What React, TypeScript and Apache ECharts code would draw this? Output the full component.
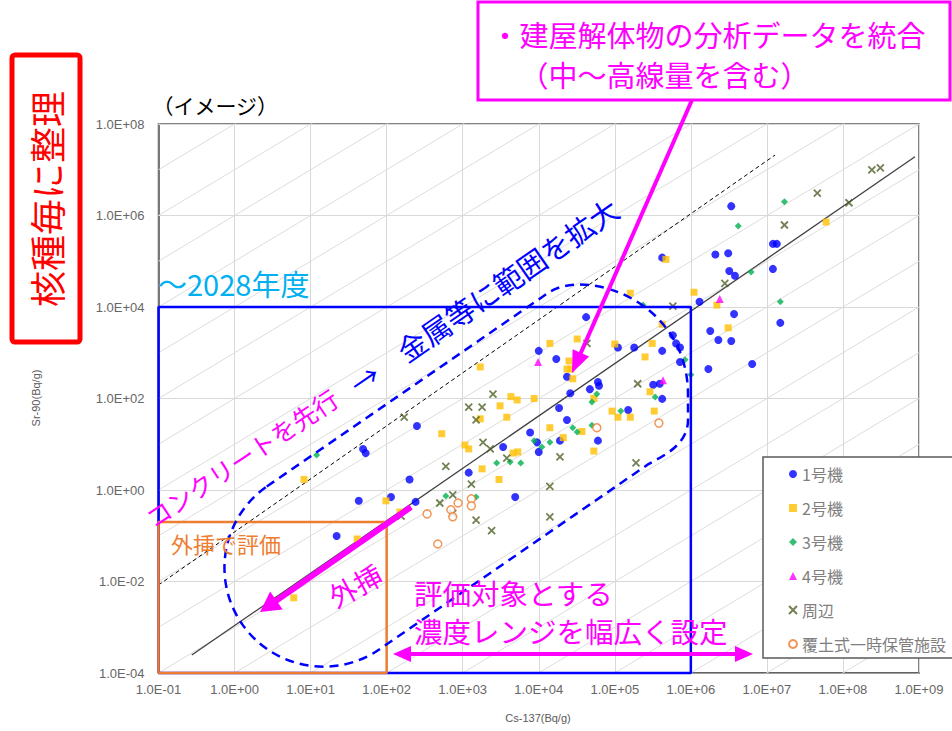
import React, { useEffect, useRef } from 'react';
import * as echarts from 'echarts';

// ---- data (Cs-137, Sr-90) in Bq/g ----
const unit1: number[][] = [
  [22, 0.099], [43, 0.58], [49, 7.9], [53, 6.4], [114, 0.7], [200, 1.7], [240, 0.55], [250, 25],
  [1200, 2.4], [3400, 8.7], [4900, 0.7], [7700, 18], [9500, 11], [1.0e4, 6.8], [1.9e4, 12],
  [2.35e4, 34], [6.0e4, 12], [1.0e4, 1100], [1.7e4, 730], [4.2e4, 6000], [1.1e5, 1300],
  [1.8e5, 1300], [4.2e5, 1100], [5.8e5, 2400], [6.4e5, 1600], [7.2e5, 1300], [7.2e5, 630],
  [2.35e4, 300], [6.0e4, 230], [6.2e4, 190], [4.7e4, 160], [2.6e4, 130], [3.2e5, 200],
  [3.9e5, 210], [4.2e5, 98], [1.85e4, 62], [1.5e5, 56], [4.2e5, 1.2e5], [1.3e6, 1.3e4],
  [1.7e6, 440], [1.8e6, 3000], [2.3e6, 1900], [3.4e6, 1800], [3.7e6, 7000], [2.1e6, 1.4e5],
  [3.1e6, 1.5e5], [3.2e6, 6.1e4], [3.8e6, 4.8e4], [3.4e6, 1.6e6], [1.2e7, 2.4e5],
  [1.35e7, 2.4e5], [1.2e7, 6.8e4], [1.5e7, 4500], [6.4e6, 570]
];
const unit2: number[][] = [
  [6.0, 0.0044], [8.2, 1.7], [41, 0.085], [98, 0.58], [150, 0.33], [530, 17], [1070, 9.6],
  [1200, 7.9], [1700, 490], [1700, 36], [1800, 2.9], [3000, 1.7], [3100, 69], [3800, 39],
  [4300, 110], [5200, 93], [8700, 100], [4600, 6.4], [5300, 6.8], [1.4e4, 23], [2.1e4, 14],
  [3.7e4, 19], [5.3e4, 7.1], [1.4e4, 1600], [3.2e4, 2000], [1.0e5, 1550], [2.5e5, 810],
  [3.1e5, 1600], [4.2e5, 4200], [2.5e4, 660], [2.35e4, 440], [2.65e4, 440], [2.8e4, 270],
  [5.3e4, 100], [2.9e5, 140], [9.2e4, 53], [1.1e5, 39], [1.6e5, 39], [3.3e5, 53],
  [1.6e5, 2.0e4], [1.1e6, 2.1e4], [2.2e6, 1.1e4], [3.1e6, 3500], [4.7e5, 1.1e5], [6.0e7, 7.2e5]
];
const unit3: number[][] = [
  [12, 5.8], [600, 0.74], [1500, 0.7], [2800, 3.9], [4200, 4.1], [5800, 3.9], [8700, 12],
  [1.1e4, 8.7], [1.4e4, 11], [2.8e4, 23], [3.2e4, 18.5], [5.0e4, 26], [5.8e4, 125], [5.0e4, 84],
  [3.4e5, 108], [1.2e5, 53], [8.4e5, 700], [1.0e6, 330], [2.35e5, 1.1e4], [1.7e7, 2.0e6],
  [4.2e6, 5.9e5], [6.2e6, 5.8e4], [1.5e7, 1.3e4]
];
const unit4: number[][] = [[9800, 630], [4.3e5, 250], [2.4e6, 1.5e4]];
const surroundings: number[][] = [
  [170, 39], [1200, 65], [1800, 65], [1500, 34], [2500, 125], [600, 3.3], [1850, 11], [2300, 7.9],
  [3800, 5.0], [1300, 1.35], [500, 0.52], [740, 0.78], [740, 0.31], [1500, 0.22], [2400, 0.13],
  [1.4e4, 1.2], [1.4e4, 0.26], [1.9e4, 5.3], [1.9e5, 3.9], [4.3e4, 1600], [2.0e5, 210],
  [5.8e5, 1.05e4], [2.8e6, 3.3e4], [1.7e7, 6.2e5], [4.6e7, 3.1e6], [1.2e8, 1.9e6],
  [2.4e8, 9.9e6], [3.1e8, 1.1e7], [155, 0.27]
];
const soilCovered: number[][] = [
  [340, 0.3], [470, 0.066], [700, 0.37], [740, 0.26], [870, 0.52], [1300, 0.64], [1300, 0.45],
  [5.8e4, 23], [3.8e5, 29]
];
const fitLine: number[][] = [[0.274, 2.47e-4], [8.85e8, 1.93e7]];
const upperLine: number[][] = [[0.1, 8.4e-3], [1.28e7, 2.1e7]];
const targetBox: number[][] = [[0.1, 1e-4], [0.1, 1e4], [1e6, 1e4], [1e6, 1e-4], [0.1, 1e-4]];
const extrapBox: number[][] = [[0.1, 1e-4], [0.1, 0.2], [100, 0.2], [100, 1e-4], [0.1, 1e-4]];
const ratioExponents = [-13, -12, -11, -10, -9, -8, -7, -6, -5, -4, -3, -2, -1, 0, 1, 2, 3, 4, 5, 6, 7, 8, 9];
const yTickValues = [1e-4, 1e-2, 1, 1e2, 1e4, 1e6, 1e8];
const X_MIN = 0.1, X_MAX = 1e9, Y_MIN = 1e-4, Y_MAX = 1e8;
const legendNames = ['1号機', '2号機', '3号機', '4号機', '周辺', '覆土式一時保管施設'];

const CAPSULE_D =
  'M 266.8 486.5 L 548 293 C 585 267 688 300 688 395 L 688 420 C 688 445 663 456 648 464.4 L 379.2 649.5 A 99 99 0 0 1 266.8 486.5 Z';
echarts.graphic.registerShape('capsule', echarts.graphic.extendPath(CAPSULE_D, {}));

const JP = '"Noto Sans CJK JP", "Noto Sans", sans-serif';

const expLabel = (v: number) => {
  const e = Math.round(Math.log10(v));
  return '1.0E' + (e < 0 ? '-' : '+') + String(Math.abs(e)).padStart(2, '0');
};

function head(tip: number[], from: number[], len: number, half: number) {
  const dx = tip[0] - from[0], dy = tip[1] - from[1];
  const l = Math.hypot(dx, dy);
  const ux = dx / l, uy = dy / l;
  const bx = tip[0] - ux * len, by = tip[1] - uy * len;
  return [[tip[0], tip[1]], [bx - uy * half, by + ux * half], [bx + uy * half, by - ux * half]];
}
function base(tip: number[], from: number[], len: number) {
  const dx = tip[0] - from[0], dy = tip[1] - from[1];
  const l = Math.hypot(dx, dy);
  return [tip[0] - (dx / l) * len * 0.8, tip[1] - (dy / l) * len * 0.8];
}

function txt(text: string, x: number, y: number, size: number, fill: string, opts: any = {}) {
  return {
    type: 'text', x, y, z: 20, rotation: opts.rotation || 0, silent: true,
    style: {
      text, fill, font: `${opts.weight || 'normal'} ${size}px ${opts.family || JP}`,
      align: opts.align || 'left', verticalAlign: 'middle',
      textAlign: opts.align || 'left', textVerticalAlign: 'middle'
    }
  };
}

export default function App() {
  const ref = useRef<HTMLDivElement>(null);
  useEffect(() => {
    if (!ref.current) return;
    const chart = echarts.init(ref.current, null, { renderer: 'svg' });
    const MAG = '#FF00FF';

    const a1From = [692, 100], a1Tip = [572, 373];
    const a2From = [411, 507], a2Tip = [260, 612];
    const a3L = [393, 654], a3R = [753, 654];

    const graphic: any[] = [
      // left red box
      { type: 'rect', z: 20, silent: true, shape: { x: 12, y: 55, width: 68, height: 287, r: 3 },
        style: { fill: '#fff', stroke: '#FF0000', lineWidth: 5 } },
      txt('核種毎に整理', 45.5, 199, 36, '#FF0000', { align: 'center', rotation: Math.PI / 2 }),
      txt('（イメージ）', 152.5, 105, 21, '#000'),
      // top magenta box
      { type: 'rect', z: 20, silent: true, shape: { x: 478, y: 2, width: 472, height: 98 },
        style: { fill: '#fff', stroke: MAG, lineWidth: 3 } },
      txt('・建屋解体物の分析データを統合', 490.5, 33.5, 29, MAG),
      txt('（中～高線量を含む）', 519.5, 73.5, 29, MAG),
      { type: 'line', z: 20, silent: true, shape: { x1: a1From[0], y1: a1From[1], x2: base(a1Tip, a1From, 22)[0], y2: base(a1Tip, a1From, 22)[1] },
        style: { stroke: MAG, lineWidth: 4 } },
      { type: 'polygon', z: 20, silent: true, shape: { points: head(a1Tip, a1From, 22, 9) }, style: { fill: MAG } },
      txt('～2028年度', 158, 283, 29, '#00B0F0'),
      // dashed capsule
      { type: 'capsule', z: 19, silent: true, x: 0, y: 0,
        style: { fill: 'none', stroke: '#0000FF', lineWidth: 2.5, lineDash: [9, 6] } },
      txt('コンクリートを先行', 148, 520, 25, MAG, { rotation: 0.59 }),
      txt('→　金属等に範囲を拡大', 352, 386, 29, '#0000FF', { rotation: 0.605 }),
      txt('外挿で評価', 171, 543, 22, '#ED7D31'),
      { type: 'line', z: 20, silent: true, shape: { x1: a2From[0], y1: a2From[1], x2: base(a2Tip, a2From, 20)[0], y2: base(a2Tip, a2From, 20)[1] },
        style: { stroke: MAG, lineWidth: 6 } },
      { type: 'polygon', z: 20, silent: true, shape: { points: head(a2Tip, a2From, 20, 11) }, style: { fill: MAG } },
      txt('外挿', 355, 585, 28, MAG, { align: 'center', rotation: 0.49 }),
      txt('評価対象とする', 414, 592, 28.5, MAG),
      txt('濃度レンジを幅広く設定', 414, 630, 28.5, MAG),
      { type: 'line', z: 20, silent: true, shape: { x1: base(a3L, a3R, 18)[0], y1: 654, x2: base(a3R, a3L, 18)[0], y2: 654 },
        style: { stroke: MAG, lineWidth: 4 } },
      { type: 'polygon', z: 20, silent: true, shape: { points: head(a3L, a3R, 18, 8) }, style: { fill: MAG } },
      { type: 'polygon', z: 20, silent: true, shape: { points: head(a3R, a3L, 18, 8) }, style: { fill: MAG } },
      // axis names
      txt('Sr-90(Bq/g)', 36, 398, 11, '#595959', { align: 'center', rotation: Math.PI / 2, family: '"Liberation Sans", sans-serif' }),
      txt('Cs-137(Bq/g)', 538, 718, 11, '#595959', { align: 'center', family: '"Liberation Sans", sans-serif' }),
      // legend box
      { type: 'rect', z: 3, silent: true, shape: { x: 763, y: 457, width: 200, height: 201 },
        style: { fill: '#fff', stroke: '#595959', lineWidth: 1.5 } }
    ];

    const scatterDefs = [
      { name: legendNames[0], data: unit1, symbol: 'circle', symbolSize: 8, itemStyle: { color: '#0000FF' } },
      { name: legendNames[1], data: unit2, symbol: 'rect', symbolSize: 7, itemStyle: { color: '#FFC000' } },
      { name: legendNames[2], data: unit3, symbol: 'diamond', symbolSize: 7, itemStyle: { color: '#00B050' } },
      { name: legendNames[3], data: unit4, symbol: 'triangle', symbolSize: 8, itemStyle: { color: '#FF00FF' } },
      { name: legendNames[4], data: surroundings, symbol: 'path://M0,0L10,10M10,0L0,10', symbolSize: 7,
        itemStyle: { color: '#4F6228', borderColor: '#4F6228', borderWidth: 1.8 } },
      { name: legendNames[5], data: soilCovered, symbol: 'circle', symbolSize: 8,
        itemStyle: { color: '#FFFFFF', borderColor: '#ED7D31', borderWidth: 1.5 } }
    ];

    const labelStyle = { formatter: expLabel, color: '#666', fontSize: 13, fontFamily: '"Liberation Sans", sans-serif' };

    chart.setOption({
      animation: false,
      backgroundColor: '#fff',
      grid: { left: 158.5, top: 124, width: 760.5, height: 549, show: true, borderColor: '#595959', borderWidth: 1.5, containLabel: false },
      xAxis: {
        type: 'log', logBase: 10, min: X_MIN, max: X_MAX, splitNumber: 10,
        axisLine: { show: true, lineStyle: { color: '#595959', width: 1.5 } },
        axisTick: { show: false },
        splitLine: { show: true, lineStyle: { color: '#D9D9D9', width: 1 } },
        axisLabel: { ...labelStyle, margin: 10 }
      },
      yAxis: {
        type: 'log', logBase: 10, min: Y_MIN, max: Y_MAX,
        axisLine: { show: true, lineStyle: { color: '#595959', width: 1.5 } },
        axisTick: { show: false, customValues: yTickValues },
        splitLine: { show: false },
        axisLabel: { ...labelStyle, margin: 14, customValues: yTickValues }
      },
      legend: {
        data: legendNames, orient: 'vertical', left: 788, top: 465, itemWidth: 8, itemHeight: 8, itemGap: 16,
        padding: 0, z: 4, selectedMode: false,
        textStyle: { fontSize: 16, color: '#7F7F7F', fontFamily: JP, lineHeight: 18 }
      },
      graphic: { elements: graphic },
      series: [
        {
          type: 'lines', coordinateSystem: 'cartesian2d', silent: true, z: 1, clip: true,
          lineStyle: { color: '#DCDCDC', width: 1, opacity: 1 },
          data: ratioExponents.map((k) => ({ coords: [[X_MIN, X_MIN * Math.pow(10, k)], [X_MAX, X_MAX * Math.pow(10, k)]] }))
        },
        {
          type: 'lines', coordinateSystem: 'cartesian2d', silent: true, z: 1, clip: true,
          lineStyle: { color: '#D9D9D9', width: 1, opacity: 1 },
          data: yTickValues.map((v) => ({ coords: [[X_MIN, v], [X_MAX, v]] }))
        },
        { type: 'line', name: 'fit', data: fitLine, showSymbol: false, silent: true, z: 2,
          lineStyle: { color: '#404040', width: 1.3 } },
        { type: 'line', name: 'upper', data: upperLine, showSymbol: false, silent: true, z: 2,
          lineStyle: { color: '#000', width: 1, type: [4, 3] } },
        ...scatterDefs.map((s) => ({ type: 'scatter', z: 3, ...s })),
        { type: 'line', name: 'box1', data: targetBox, showSymbol: false, silent: true, clip: false, z: 5,
          lineStyle: { color: '#0000FF', width: 2.5 } },
        { type: 'line', name: 'box2', data: extrapBox, showSymbol: false, silent: true, clip: false, z: 5,
          lineStyle: { color: '#ED7D31', width: 2.5 } }
      ]
    });
    return () => chart.dispose();
  }, []);
  return <div ref={ref} style={{ position: 'absolute', left: 0, top: 0, width: 952, height: 731, background: '#fff' }} />;
}
